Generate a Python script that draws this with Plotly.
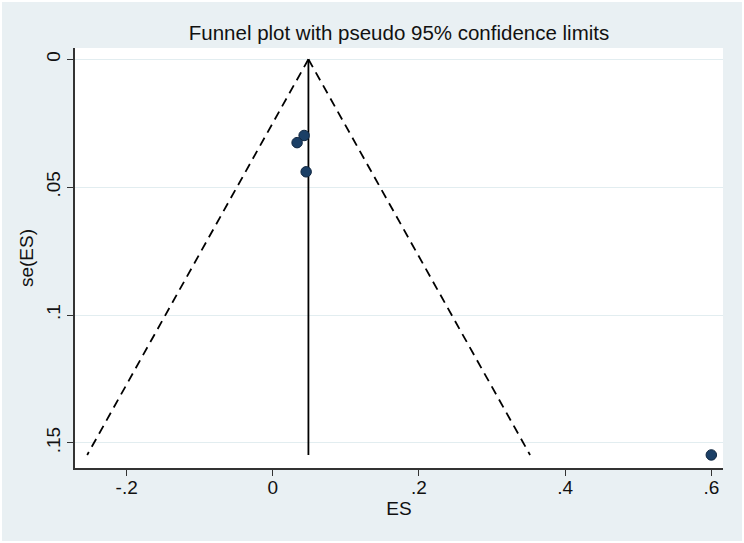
import plotly.graph_objects as go

# Study effect sizes and standard errors
es = [0.0428, 0.0332, 0.0456, 0.600]
se = [0.0298, 0.0326, 0.0440, 0.1547]

# Pseudo 95% confidence limit lines
lower_x = [0.0487, -0.2540]
upper_x = [0.0487, 0.3520]
limit_y = [0.0, 0.1547]
pooled_x = [0.0487, 0.0487]
pooled_y = [0.0, 0.1547]

xticks = [-0.2, 0, 0.2, 0.4, 0.6]
xticklabels = ["-.2", "0", ".2", ".4", ".6"]
yticks = [0, 0.05, 0.1, 0.15]
yticklabels = ["0", ".05", ".1", ".15"]

W, H = 740, 539
font = "Liberation Sans, Arial, sans-serif"
fig = go.Figure()
fig.add_trace(go.Scatter(x=lower_x, y=limit_y, mode="lines",
                         line=dict(color="black", width=1.8, dash="9px,6px"), showlegend=False))
fig.add_trace(go.Scatter(x=upper_x, y=limit_y, mode="lines",
                         line=dict(color="black", width=1.8, dash="9px,6px"), showlegend=False))
fig.add_trace(go.Scatter(x=pooled_x, y=pooled_y, mode="lines",
                         line=dict(color="black", width=1.8), showlegend=False))
fig.add_trace(go.Scatter(x=es, y=se, mode="markers",
                         marker=dict(color="#1b3f66", size=10.5,
                                     line=dict(color="#0f2640", width=1)),
                         showlegend=False))

fig.update_layout(
    width=W, height=H,
    paper_bgcolor="#e9f0f3", plot_bgcolor="white",
    margin=dict(l=73, r=19, t=46, b=73, autoexpand=False),
    font=dict(family=font, color="#111111", size=18),
    title=dict(text="Funnel plot with pseudo 95% confidence limits",
               x=397 / W, xanchor="center", y=1 - 31 / H, yanchor="middle",
               font=dict(size=20.5, family=font, color="#111111")),
)
fig.update_xaxes(range=[-0.2707, 0.616], tickvals=xticks, ticktext=xticklabels,
                 showgrid=False, zeroline=False, showline=True, linecolor="#333333",
                 linewidth=1.5, ticks="outside", ticklen=6, tickcolor="#333333",
                 tickfont=dict(size=19), automargin=False, ticklabelstandoff=-5,
                 title=dict(text="ES", font=dict(size=19), standoff=4))
fig.update_yaxes(range=[0.1598, -0.0044], tickvals=yticks, ticktext=yticklabels,
                 showgrid=True, gridcolor="#e2edf0", gridwidth=1, zeroline=False,
                 showline=True, linecolor="#333333", linewidth=1.5,
                 ticks="outside", ticklen=6, tickcolor="#333333", tickangle=-90,
                 tickfont=dict(size=19), automargin=False,
                 title=dict(text="se(ES)", font=dict(size=19), standoff=4))

fig.write_html("out.html",
               post_script="document.body.style.margin='2px';document.body.style.overflow='hidden';")
